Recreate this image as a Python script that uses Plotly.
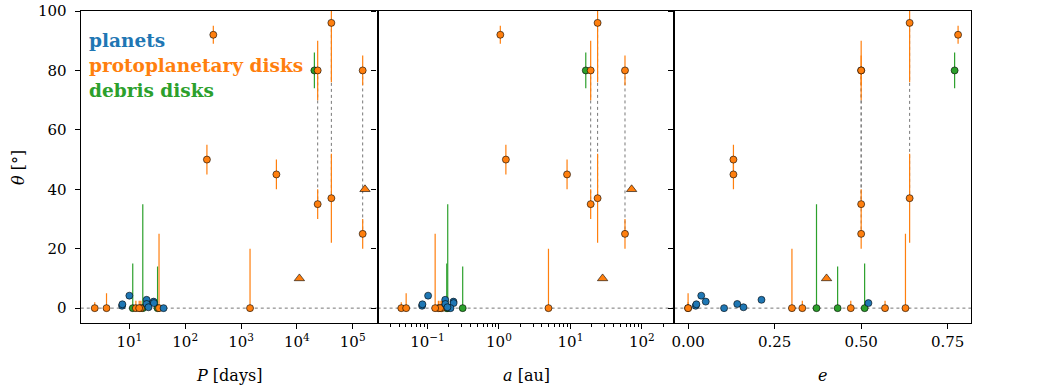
import plotly.graph_objects as go

# ---------------- data ----------------
# planets
pl_P = [7.4, 7.5, 10.0, 20.4, 20.4, 27.2, 27.5, 41.0, 22.0]
pl_a = [0.084, 0.085, 0.102, 0.177, 0.178, 0.231, 0.232, 0.21, 0.19]
pl_e = [0.022, 0.024, 0.038, 0.212, 0.142, 0.051, 0.521, 0.104, 0.16]
pl_theta = [0.8, 1.3, 4.2, 2.8, 1.4, 2.2, 1.7, 0.0, 0.3]

# protoplanetary disks
pp_P = [2.4, 3.9, 13.1, 16.1, 15.0, 34, 1450, 319, 245, 4300, 11100,
        23600, 23600, 41500, 41500, 151000, 151000, 166000]
pp_a = [0.043, 0.0503, 0.142, 0.158, 0.150, 0.128, 4.93, 1.045, 1.25, 8.97, 28.2,
        19.2, 19.2, 24.0, 24.0, 58, 58, 71.8]
pp_e = [0.0, 0.0, 0.33, 0.47, 0.569, 0.628, 0.30, 0.78, 0.131, 0.131, 0.40,
        0.50, 0.50, 0.64, 0.64, 0.50, 0.50, None]
pp_theta = [0, 0, 0, 0, 0, 0, 0, 92, 50, 45, 10, 80, 35, 96, 37, 80, 25, 40]
pp_err_up = [2, 5, 2.5, 2.5, 2.5, 25, 20, 3, 5, 5, 0, 10, 5, 20, 15, 5, 5, 0]
pp_err_dn = [0, 0, 0, 0, 0, 0, 0, 3, 5, 5, 0, 10, 5, 20, 15, 5, 5, 0]
pp_symbol = ["circle"] * 10 + ["triangle-up"] + ["circle"] * 6 + ["triangle-up"]

# debris disks
dd_P = [11.5, 17.4, 32, 20600]
dd_a = [0.186, 0.192, 0.311, 16.4]
dd_e = [0.51, 0.371, 0.432, 0.77]
dd_theta = [0, 0, 0, 80]
dd_err_up = [15, 35, 14, 6]
dd_err_dn = [0, 0, 0, 6]

# tick labels
P_tickvals = [10, 100, 1000, 10000, 100000]
P_ticktext = ["10<sup>1</sup>", "10<sup>2</sup>", "10<sup>3</sup>", "10<sup>4</sup>", "10<sup>5</sup>"]
a_tickvals = [0.1, 1, 10, 100]
a_ticktext = ["10<sup>\u22121</sup>", "10<sup>0</sup>", "10<sup>1</sup>", "10<sup>2</sup>"]
e_tickvals = [0.0, 0.25, 0.5, 0.75]
e_ticktext = ["0.00", "0.25", "0.50", "0.75"]
theta_tickvals = [0, 20, 40, 60, 80, 100]

BLUE, ORANGE, GREEN = "#1f77b4", "#ff7f0e", "#2ca02c"
FONT = "DejaVu Serif"

fig = go.Figure()

panels = [("x", "y", pl_P, pp_P, dd_P),
          ("x2", "y2", pl_a, pp_a, dd_a),
          ("x3", "y3", pl_e, pp_e, dd_e)]

for xa, ya, plx, ppx, ddx in panels:
    # dotted connectors between multiple measurements of the same system
    seen = {}
    for i, xv in enumerate(ppx):
        if xv is None:
            continue
        seen.setdefault((xv, pp_P[i]), []).append(i)
    for key, idx in seen.items():
        if len(idx) > 1:
            fig.add_trace(go.Scatter(
                x=[ppx[j] for j in idx], y=[pp_theta[j] for j in idx],
                mode="lines", line=dict(color="#777777", width=1, dash="dot"),
                xaxis=xa, yaxis=ya, showlegend=False, hoverinfo="skip"))
    # debris disks
    fig.add_trace(go.Scatter(
        x=ddx, y=dd_theta, mode="markers", xaxis=xa, yaxis=ya, showlegend=False,
        marker=dict(color=GREEN, size=7, opacity=1, line=dict(color="black", width=0.6)),
        error_y=dict(type="data", symmetric=False, array=dd_err_up, arrayminus=dd_err_dn,
                     color=GREEN, thickness=1.2, width=0)))
    # protoplanetary disks
    fig.add_trace(go.Scatter(
        x=ppx, y=pp_theta, mode="markers", xaxis=xa, yaxis=ya, showlegend=False,
        marker=dict(color=ORANGE, size=[9 if s != "circle" else 7 for s in pp_symbol],
                    opacity=1, symbol=pp_symbol, line=dict(color="black", width=0.6)),
        error_y=dict(type="data", symmetric=False, array=pp_err_up, arrayminus=pp_err_dn,
                     color=ORANGE, thickness=1.2, width=0)))
    # planets
    fig.add_trace(go.Scatter(
        x=plx, y=pl_theta, mode="markers", xaxis=xa, yaxis=ya, showlegend=False,
        marker=dict(color=BLUE, size=7, opacity=1, line=dict(color="black", width=0.6))))

W = 297.67 / 1050
x0 = 78 / 1050
doms = [[x0, x0 + W], [x0 + W, x0 + 2 * W], [x0 + 2 * W, x0 + 3 * W]]

axis_common = dict(showline=True, linecolor="black", linewidth=1.3, mirror=True,
                   ticks="outside", ticklen=5, tickwidth=1, tickcolor="black",
                   showgrid=False, zeroline=False,
                   tickfont=dict(family=FONT, size=15, color="black"))

a_minor = []
for k in range(-2, 3):
    for m in range(2, 10):
        a_minor.append(m * 10 ** k)

fig.update_layout(
    width=1050, height=390,
    margin=dict(l=0, r=0, t=11, b=67),
    paper_bgcolor="white", plot_bgcolor="white",
    showlegend=False,
    xaxis=dict(domain=doms[0], type="log", range=[0.13, 5.446], anchor="y",
               tickmode="array", tickvals=P_tickvals, ticktext=P_ticktext, **axis_common),
    xaxis2=dict(domain=doms[1], type="log", range=[-1.698, 2.455], anchor="y2",
                tickmode="array", tickvals=a_tickvals, ticktext=a_ticktext,
                minor=dict(ticks="outside", ticklen=2.5, tickwidth=0.8, tickcolor="black",
                           tickmode="array", tickvals=a_minor),
                **axis_common),
    xaxis3=dict(domain=doms[2], range=[-0.0395, 0.818], anchor="y3",
                tickmode="array", tickvals=e_tickvals, ticktext=e_ticktext, **axis_common),
    yaxis=dict(domain=[0, 1], range=[-5, 100], anchor="x", ticklabelstandoff=5,
               tickmode="array", tickvals=theta_tickvals, **axis_common),
    yaxis2=dict(domain=[0, 1], range=[-5, 100], anchor="x2", matches="y",
                tickmode="array", tickvals=theta_tickvals, showticklabels=False, **axis_common),
    yaxis3=dict(domain=[0, 1], range=[-5, 100], anchor="x3", matches="y",
                tickmode="array", tickvals=theta_tickvals, showticklabels=False, **axis_common),
)

# horizontal dotted reference line at theta = 0
for xr, yr in [("x domain", "y"), ("x2 domain", "y2"), ("x3 domain", "y3")]:
    fig.add_shape(type="line", xref=xr, yref=yr, x0=0, x1=1, y0=0, y1=0,
                  line=dict(color="#777777", width=1, dash="dot"), layer="below")

# legend as coloured text
legend_items = [("planets", BLUE, 0.906), ("protoplanetary disks", ORANGE, 0.824),
                ("debris disks", GREEN, 0.744)]
for txt, col, yy in legend_items:
    fig.add_annotation(text="<b>" + txt + "</b>", x=84 / 1050, y=yy, xref="paper", yref="paper",
                       xanchor="left", yanchor="middle", showarrow=False,
                       font=dict(family=FONT, size=18.5, color=col))

# axis titles
titles = [("<i>P</i> [days]", (doms[0][0] + doms[0][1]) / 2),
          ("<i>a</i> [au]", (doms[1][0] + doms[1][1]) / 2),
          ("<i>e</i>", (doms[2][0] + doms[2][1]) / 2)]
for txt, xx in titles:
    fig.add_annotation(text=txt, x=xx, y=-0.167, xref="paper", yref="paper",
                       xanchor="center", yanchor="middle", showarrow=False,
                       font=dict(family=FONT, size=16, color="black"))
fig.add_annotation(text="<i>\u03b8</i> [\u00b0]", x=15 / 1050, y=0.5, xref="paper", yref="paper",
                   xanchor="center", yanchor="middle", showarrow=False, textangle=-90,
                   font=dict(family=FONT, size=16, color="black"))

fig.write_html("out.html")
